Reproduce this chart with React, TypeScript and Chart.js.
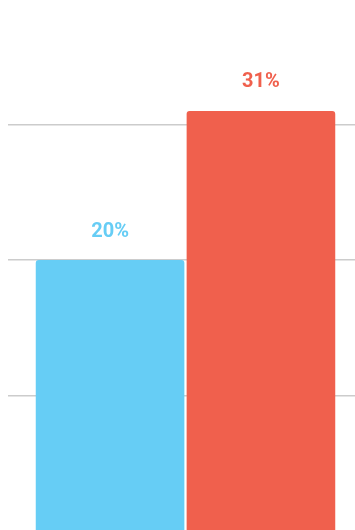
import React, { useEffect, useRef } from "react";
import { Chart, registerables } from "chart.js";

Chart.register(...registerables);

const categories = [""];
const seriesNames = ["A", "B"];
const seriesValues = [20, 31];
const seriesColors = ["#66CDF5", "#F0604D"];
const valueLabels = ["20%", "31%"];

const labelPlugin = {
  id: "barLabels",
  afterDatasetsDraw(chart: any) {
    const ctx = chart.ctx;
    ctx.save();
    ctx.font = "bold 20px Roboto";
    ctx.textAlign = "center";
    ctx.textBaseline = "alphabetic";
    chart.data.datasets.forEach((ds: any, i: number) => {
      const meta = chart.getDatasetMeta(i);
      meta.data.forEach((bar: any) => {
        ctx.fillStyle = seriesColors[i];
        ctx.fillText(valueLabels[i], bar.x, bar.y - 23.5);
      });
    });
    ctx.restore();
  },
};

export default function App() {
  const ref = useRef<HTMLCanvasElement>(null);
  useEffect(() => {
    if (!ref.current) return;
    const chart = new Chart(ref.current, {
      type: "bar",
      data: {
        labels: categories,
        datasets: seriesNames.map((n, i) => ({
          label: n,
          data: [seriesValues[i]],
          backgroundColor: seriesColors[i],
          borderRadius: { topLeft: 3, topRight: 3, bottomLeft: 0, bottomRight: 0 },
          borderSkipped: "bottom",
          categoryPercentage: 0.85,
          barPercentage: 0.985,
        })),
      },
      options: {
        animation: false,
        responsive: true,
        maintainAspectRatio: false,
        layout: { padding: 0 },
        plugins: { legend: { display: false }, tooltip: { enabled: false } },
        scales: {
          x: { display: false },
          y: {
            min: 0,
            max: 38.6,
            ticks: { display: false, stepSize: 10 },
            border: { display: false },
            grid: {
              drawTicks: false,
              lineWidth: 1.5,
              color: (c: any) =>
                c.tick && c.tick.value > 0 && c.tick.value % 10 === 0 ? "#cccccc" : "rgba(0,0,0,0)",
            },
          },
        },
      },
      plugins: [labelPlugin],
    });
    return () => chart.destroy();
  }, []);
  return (
    <div
      style={{
        position: "fixed",
        left: 0,
        top: 0,
        width: 355,
        height: 530,
        overflow: "hidden",
        background: "#ffffff",
      }}
    >
      <div style={{ position: "absolute", left: 8, top: 8, width: 355, height: 523 }}>
        <canvas ref={ref} />
      </div>
    </div>
  );
}
